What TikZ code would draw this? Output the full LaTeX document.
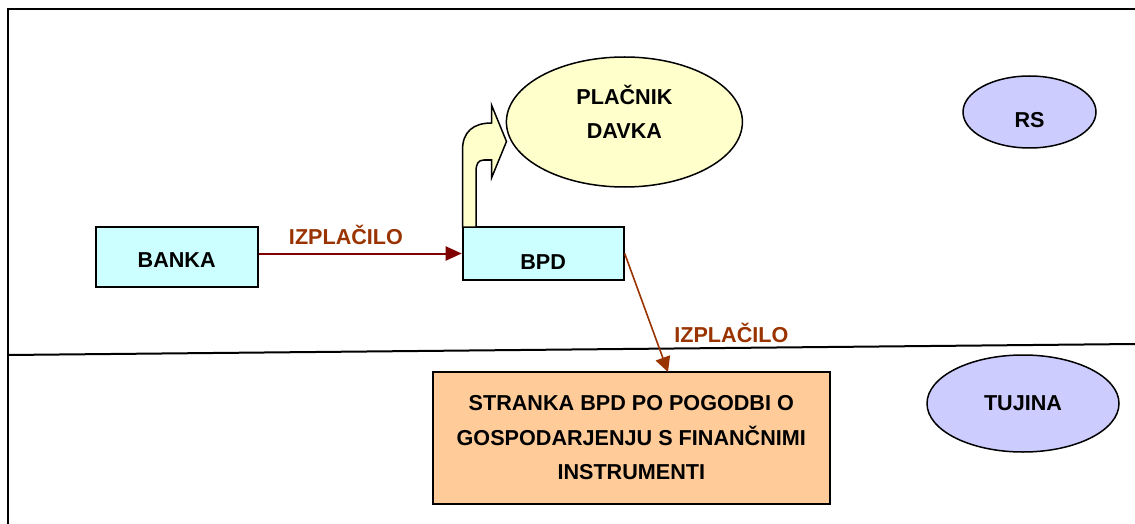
\documentclass[tikz,border=0pt]{standalone}
\usepackage{fontspec}
\setmainfont{Liberation Sans}
\usetikzlibrary{shapes.geometric,arrows.meta}
\definecolor{boxcyan}{HTML}{CCFFFF}
\definecolor{boxpeach}{HTML}{FFCC99}
\definecolor{ellyellow}{HTML}{FFFFCC}
\definecolor{elllilac}{HTML}{CCCCFF}
\definecolor{paydark}{HTML}{800000}
\definecolor{paybrown}{HTML}{993300}

\begin{document}
\begin{tikzpicture}[x=1pt, y=-1pt,
  font=\fontsize{21.6}{34.5}\selectfont\bfseries,
  box/.style={rectangle, draw, line width=2pt, inner sep=0pt, align=center},
  entity/.style={box, fill=boxcyan},
  client/.style={box, fill=boxpeach, minimum width=397pt, minimum height=132pt},
  area/.style={ellipse, draw, line width=1.5pt, inner sep=0pt, fill=elllilac, align=center},
  payer/.style={area, fill=ellyellow},
  flow/.style={-{Triangle[length=16pt,width=14pt]}, line width=2pt, draw=paydark},
  flowout/.style={-{Triangle[length=15pt,width=15pt]}, line width=1.6pt, draw=paybrown},
  flowlbl/.style={text=paybrown, inner sep=0pt},
  bent/.style={draw, line width=1.5pt, fill=ellyellow, line join=miter}
]
\useasboundingbox (0,0) rectangle (1135,524);
\draw[line width=2pt] (1135,9) -- (8,9) -- (8,524);
\draw[line width=2pt] (8,355) -- (1135,344);

\node[entity, minimum width=162pt, minimum height=60pt, text height=21pt, text depth=0pt] (banka) at (176.7,257.3) {BANKA};
\node[entity, minimum width=161pt, minimum height=53pt, text height=31pt, text depth=0pt] (bpd) at (543.2,253.5) {BPD};
\node[client] (stranka) at (631.3,437.8) {STRANKA BPD PO POGODBI O\\GOSPODARJENJU S FINANČNIMI\\INSTRUMENTI};
\node[payer, minimum width=236pt, minimum height=130pt, text depth=20pt] (placnik) at (624.4,122) {PLAČNIK\\DAVKA};
\node[area, minimum width=133pt, minimum height=72pt, text height=31pt, text depth=0pt] (rs) at (1029.5,112) {RS};
\node[area, minimum width=192pt, minimum height=97pt] (tujina) at (1023,403.5) {TUJINA};

\draw[bent] (462.5,227) -- (462.5,150) .. controls (462.5,132) and (473,123) .. (491.5,123)
  -- (491.5,105) -- (506.5,141.5) -- (491.5,178) -- (491.5,160) -- (484,160)
  .. controls (478,160) and (476,164) .. (476,172) -- (476,227) -- cycle;

\coordinate (hit) at (668,372);
\draw[flow] (banka.east |- bpd.west) -- node[flowlbl, above=8pt, pos=0.43] {IZPLAČILO} (bpd.west);
\draw[flowout] (bpd.east) -- node[flowlbl, right=20pt, pos=0.667] {IZPLAČILO} (hit);
\end{tikzpicture}
\end{document}
